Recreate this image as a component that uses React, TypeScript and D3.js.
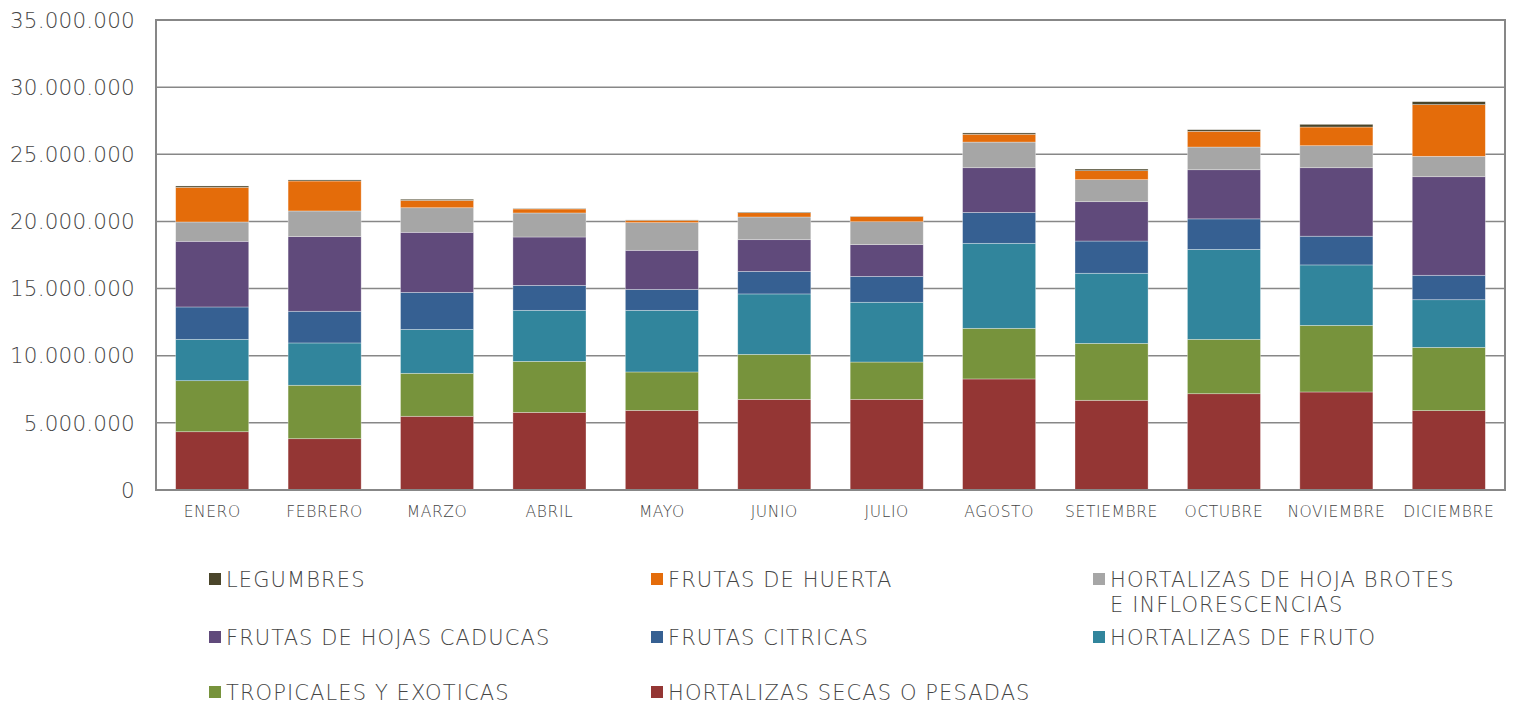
import React, { useEffect } from "react";
import * as d3 from "d3";

const months = [
  "ENERO", "FEBRERO", "MARZO", "ABRIL", "MAYO", "JUNIO",
  "JULIO", "AGOSTO", "SETIEMBRE", "OCTUBRE", "NOVIEMBRE", "DICIEMBRE",
];

// values per month, bottom of the stack first
const hortalizasSecas = [4340000, 3820000, 5490000, 5780000, 5930000, 6750000, 6750000, 8270000, 6680000, 7170000, 7300000, 5910000];
const tropicales = [3800000, 3980000, 3200000, 3800000, 2860000, 3350000, 2780000, 3770000, 4240000, 4050000, 4960000, 4710000];
const hortalizasFruto = [3080000, 3150000, 3270000, 3800000, 4590000, 4500000, 4450000, 6330000, 5220000, 6700000, 4500000, 3550000];
const frutasCitricas = [2410000, 2360000, 2760000, 1860000, 1560000, 1680000, 1930000, 2300000, 2400000, 2270000, 2140000, 1820000];
const frutasCaducas = [4890000, 5560000, 4470000, 3600000, 2910000, 2360000, 2360000, 3330000, 2930000, 3660000, 5100000, 7340000];
const hortalizasHoja = [1440000, 1910000, 1830000, 1790000, 2060000, 1690000, 1710000, 1910000, 1640000, 1690000, 1640000, 1520000];
const frutasHuerta = [2580000, 2230000, 550000, 300000, 170000, 320000, 380000, 580000, 670000, 1170000, 1390000, 3850000];
const legumbres = [100000, 80000, 80000, 30000, 30000, 50000, 20000, 100000, 120000, 120000, 200000, 220000];

const yTicks = [0, 5000000, 10000000, 15000000, 20000000, 25000000, 30000000, 35000000];

const series = [
  { key: "secas", name: "HORTALIZAS SECAS O PESADAS", color: "#943634", values: hortalizasSecas },
  { key: "tropicales", name: "TROPICALES Y EXOTICAS", color: "#77933C", values: tropicales },
  { key: "fruto", name: "HORTALIZAS DE FRUTO", color: "#31859C", values: hortalizasFruto },
  { key: "citricas", name: "FRUTAS CITRICAS", color: "#366092", values: frutasCitricas },
  { key: "caducas", name: "FRUTAS DE HOJAS CADUCAS", color: "#604A7B", values: frutasCaducas },
  { key: "hoja", name: "HORTALIZAS DE HOJA BROTES\nE INFLORESCENCIAS", color: "#A6A6A6", values: hortalizasHoja },
  { key: "huerta", name: "FRUTAS DE HUERTA", color: "#E46C0A", values: frutasHuerta },
  { key: "legumbres", name: "LEGUMBRES", color: "#4A452A", values: legumbres },
];

const width = 1514;
const height = 704;
const margin = { top: 20, right: 9, bottom: 214, left: 156 };
const font = "'DejaVu Sans', sans-serif";
const textColor = "#454545";
const gridColor = "#878787";

const fmt = (v: number) => d3.format(",")(v).replace(/,/g, ".");

export default function App() {
  useEffect(() => {
    document.body.style.margin = "0";
  }, []);

  const plotW = width - margin.left - margin.right;
  const plotH = height - margin.top - margin.bottom;

  const table = months.map((m, i) => {
    const row: any = { month: m };
    series.forEach((s) => (row[s.key] = s.values[i]));
    return row;
  });

  const stacked = d3.stack().keys(series.map((s) => s.key))(table);

  const x = d3.scaleBand().domain(months).range([0, plotW]).paddingInner(0.35).paddingOuter(0.175);
  const y = d3.scaleLinear().domain([0, 35000000]).range([plotH, 0]);

  // legend: row-major, reverse stack order
  const legendItems = series.slice().reverse();
  const legendCols = [209, 651, 1093];
  const legendRows = [579, 637, 692];

  return (
    <svg width={width} height={height} style={{ display: "block", background: "#fff" }}>
      <g transform={`translate(${margin.left},${margin.top})`}>
        {yTicks.map((t) => (
          <g key={t}>
            <line x1={0} x2={plotW} y1={y(t)} y2={y(t)} stroke={gridColor} strokeWidth={1.5} />
            <text
              x={-21}
              y={y(t)}
              dy="0.36em"
              textAnchor="end"
              fontFamily={font}
              fontSize={21.5}
              fontWeight={300}
              letterSpacing={0.2}
              fill={textColor}
            >
              {fmt(t)}
            </text>
          </g>
        ))}
        {stacked.map((layer, li) => (
          <g key={layer.key} fill={series[li].color}>
            {layer.map((d, i) => (
              <rect
                key={i}
                x={x(months[i])}
                y={y(d[1])}
                width={x.bandwidth()}
                height={Math.max(0, y(d[0]) - y(d[1]))}
                stroke="rgba(255,255,255,0.45)"
                strokeWidth={0.7}
              />
            ))}
          </g>
        ))}
        <rect x={0} y={0} width={plotW} height={plotH} fill="none" stroke={gridColor} strokeWidth={2} />
        {months.map((m) => (
          <text
            key={m}
            x={(x(m) as number) + x.bandwidth() / 2}
            y={plotH + 27}
            textAnchor="middle"
            fontFamily={font}
            fontSize={15.5}
            fontWeight={300}
            letterSpacing={0.6}
            fill={textColor}
          >
            {m}
          </text>
        ))}
      </g>
      {legendItems.map((s, i) => {
        const cx = legendCols[i % 3];
        const cy = legendRows[Math.floor(i / 3)];
        const lines = s.name.split("\n");
        return (
          <g key={s.key}>
            <rect x={cx} y={cy - 6} width={12} height={12} fill={s.color} />
            {lines.map((ln, j) => (
              <text
                key={j}
                x={cx + 17}
                y={cy + j * 25}
                dy="0.36em"
                fontFamily={font}
                fontSize={21}
                fontWeight={300}
                letterSpacing={1.1}
                fill={textColor}
              >
                {ln}
              </text>
            ))}
          </g>
        );
      })}
    </svg>
  );
}
